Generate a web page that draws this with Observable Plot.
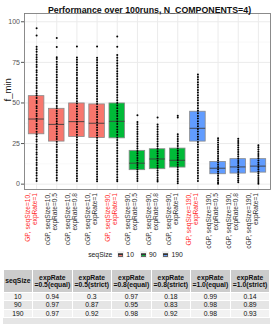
<!DOCTYPE html>
<html>
<head>
<meta charset="utf-8">
<script src="https://cdn.jsdelivr.net/npm/d3@7"></script>
<script src="https://cdn.jsdelivr.net/npm/@observablehq/plot@0.6"></script>
<style>
  body { margin: 0; background: white; font-family: "Liberation Sans", Arial, sans-serif; }
  #wrap { position: relative; width: 273px; height: 327px; }
  #chart { position: absolute; left: 0; top: 0; }
  #legend { position: absolute; left: 0; top: 249px; width: 273px; height: 11px; display: flex; justify-content: center; align-items: center; font-size: 6.8px; color: #222; }
  #legend .key { display: inline-block; width: 7px; height: 7px; position: relative; margin: 0 2px 0 4px; background: #f2f2f2; }
  #legend .key i { position: absolute; left: 1px; top: 1.5px; width: 5px; height: 4px; box-sizing: border-box; border: 0.6px solid #666; }
  #legend .key b { position: absolute; left: 1px; top: 3.2px; width: 5px; height: 0.7px; background: #333; }
  #tablebox { position: absolute; left: 2.5px; top: 269px; width: 267px; height: 55px; background: #e5e5e5; }
  table { border-collapse: collapse; font-size: 6.8px; color: #111; width: 267px; table-layout: fixed; }
  td, th { border: 1px solid white; text-align: center; padding: 0; line-height: 7.3px; }
  th { background: #cccccc; font-weight: bold; height: 22px; }
  tr.r0 td { background: #f2f2f2; }
  tr.r1 td { background: #e5e5e5; }
</style>
</head>
<body>
<div id="wrap">
  <div id="chart"></div>
  <div id="legend"></div>
  <div id="tablebox"></div>
</div>
<script>
// ---------- data ----------
const title = "Performance over 100runs, N_COMPONENTS=4)";
const categories = ["GP10_1","cGP10_0.5","cGP10_0.8","cGP10_1","GP90_1","cGP90_0.5","cGP90_0.8","cGP90_1","GP190_1","cGP190_0.5","cGP190_0.8","cGP190_1"];
const xLabels = [
  "GP, seqSize=10,\nexpRate=1","cGP, seqSize=10,\nexpRate=0.5","cGP, seqSize=10,\nexpRate=0.8","cGP, seqSize=10,\nexpRate=1",
  "GP, seqSize=90,\nexpRate=1","cGP, seqSize=90,\nexpRate=0.5","cGP, seqSize=90,\nexpRate=0.8","cGP, seqSize=90,\nexpRate=1",
  "GP, seqSize=190,\nexpRate=1","cGP, seqSize=190,\nexpRate=0.5","cGP, seqSize=190,\nexpRate=0.8","cGP, seqSize=190,\nexpRate=1"
];
const isGP = [true,false,false,false,true,false,false,false,true,false,false,false];
const seqSize = ["10","10","10","10","90","90","90","90","190","190","190","190"];
const seqLevels = ["10","90","190"];
const seqColors = ["#F8766D","#00BA38","#619CFF"];
const q1 =     [30.7, 26.2, 29.0, 28.4, 28.2,  8.6,  9.2, 10.2, 26.2,  6.1,  6.5,  7.1];
const median = [40.1, 36.8, 38.5, 37.5, 38.7, 12.9, 15.5, 14.7, 34.4,  9.8, 10.6, 11.1];
const q3 =     [54.2, 46.4, 49.7, 49.1, 49.7, 20.5, 21.5, 21.9, 44.6, 13.7, 15.4, 15.4];
const yTicks = [0, 25, 50, 75, 100];
const yMinor = [12.5, 37.5, 62.5, 87.5];

// f_min of the runs, per box (read from the dot columns)
const runs1 = [96,91.5,84.6,83.1,81.6,79.7,78.2,76.8,75.3,73.5,72.1,70.2,68.9,67.2,65.5,64.1,62.3,60.6,59.2,57.3,55.8,54.6,53.1,51.2,49.9,48.0,46.7,45.1,43.3,42.0,40.2,38.9,37.0,35.6,34.1,32.3,30.8,29.3,27.5,26.2,24.3,22.8,21.4,19.5,18.2,16.4,14.9,13.2,11.8,10.0,8.6,6.8,5.3,3.5,1.9];
const runs2 = [90,84.4,78.2,77.0,75.4,73.7,72.2,70.6,69.1,67.4,65.9,64.2,62.8,61.0,59.5,57.8,56.3,54.5,53.1,51.4,49.9,48.2,46.8,45.0,43.5,41.9,40.3,38.7,37.3,35.5,34.1,32.4,30.9,29.2,27.8,26.1,24.4,22.9,21.2,19.8,18.0,16.6,14.9,13.5,11.7,10.3,8.5,7.1,5.4,3.8,2.2];
const runs3 = [84.8,78.0,76.6,75.0,73.5,71.8,70.3,68.6,67.2,65.4,64.0,62.3,60.8,59.0,57.6,55.9,54.3,52.7,51.1,49.6,47.9,46.4,44.8,43.1,41.6,40.0,38.4,36.9,35.2,33.7,32.1,30.4,28.9,27.3,25.7,24.1,22.5,20.9,19.3,17.7,16.2,14.5,13.0,11.3,9.8,8.2,6.6,5.0,3.5,2.0];
const runs4 = [84.8,77.9,76.4,74.9,73.2,71.7,70.1,68.5,66.9,65.3,63.7,62.1,60.5,58.9,57.3,55.7,54.1,52.5,50.9,49.3,47.7,46.1,44.5,42.9,41.3,39.7,38.1,36.5,34.9,33.3,31.7,30.1,28.5,26.9,25.3,23.7,22.1,20.5,18.9,17.3,15.7,14.1,12.5,10.9,9.3,7.7,6.1,4.5,3.0,1.8];
const runs5 = [91,84.6,79.6,77.8,76.2,74.5,72.9,71.3,69.6,68.0,66.4,64.7,63.1,61.5,59.8,58.2,56.6,54.9,53.3,51.7,50.0,48.4,46.8,45.1,43.5,41.9,40.2,38.6,37.0,35.3,33.7,32.1,30.4,28.8,27.2,25.5,23.9,22.3,20.6,19.0,17.4,15.7,14.1,12.5,10.8,9.2,7.6,5.9,4.3,2.7,1.8];
const runs6 = [42.4,38.3,36.9,35.4,33.8,32.3,30.9,29.4,27.8,26.3,24.9,23.4,21.9,20.4,19.0,17.6,16.1,14.7,13.2,11.8,10.4,9.0,7.6,6.1,4.7,3.3,1.9];
const runs7 = [41.1,36.8,35.3,33.8,32.2,30.7,29.3,27.8,26.2,24.7,23.3,21.8,20.3,18.8,17.3,15.8,14.4,12.9,11.4,9.9,8.4,7.0,5.5,4.0,2.6,1.6];
const runs8 = [42.2,41.0,30.7,29.3,27.8,26.4,24.9,23.5,22.0,20.6,19.1,17.7,16.2,14.8,13.4,11.9,10.5,9.0,7.6,6.1,4.7,3.2,1.8,0.6];
const runs9 = [67.6,66.0,64.4,62.8,61.2,59.6,58.0,56.4,54.8,53.2,51.6,50.0,48.4,46.8,45.2,43.6,42.0,40.4,38.8,37.2,35.6,34.0,32.4,30.8,29.2,27.6,26.0,24.4,22.8,21.2,19.6,18.0,16.4,14.8,13.2,11.6,10.0,8.4,6.8,5.2,3.6,2.0];
const runs10 = [28.3,27.0,25.6,24.2,22.9,21.5,20.1,18.8,17.4,16.0,14.7,13.3,11.9,10.6,9.2,7.8,6.5,5.1,3.7,2.4,1.2,0.2];
const runs11 = [28.0,26.6,25.3,23.9,22.5,21.2,19.8,18.4,17.1,15.7,14.3,13.0,11.6,10.2,8.9,7.5,6.1,4.8,3.4,2.2,1.2];
const runs12 = [24.0,22.7,21.3,20.0,18.6,17.3,15.9,14.6,13.2,11.9,10.5,9.2,7.8,6.5,5.1,3.8,2.5,1.3,0.3];

// table
const tableHeader = ["seqSize","expRate\n=0.5(equal)","expRate\n=0.5(strict)","expRate\n=0.8(equal)","expRate\n=0.8(strict)","expRate\n=1.0(equal)","expRate\n=1.0(strict)"];
const tableSeq = ["10","90","190"];
const tableRow10 = ["0.94","0.3","0.97","0.18","0.99","0.14"];
const tableRow90 = ["0.97","0.87","0.95","0.83","0.98","0.89"];
const tableRow190 = ["0.97","0.92","0.98","0.92","0.98","0.93"];

// ---------- build ----------
const allRuns = [runs1,runs2,runs3,runs4,runs5,runs6,runs7,runs8,runs9,runs10,runs11,runs12];
const stats = categories.map((c, i) => {
  const vals = allRuns[i];
  const iqr = q3[i] - q1[i];
  const hi = d3.max(vals.filter(v => v <= q3[i] + 1.5 * iqr));
  const lo = d3.min(vals.filter(v => v >= q1[i] - 1.5 * iqr));
  return {cat: c, q1: q1[i], median: median[i], q3: q3[i], lo, hi, seq: seqSize[i]};
});
const points = categories.flatMap((c, i) => allRuns[i].map(v => ({cat: c, v})));
const labelOf = new Map(categories.map((c, i) => [c, xLabels[i]]));
const gpCats = categories.filter((c, i) => isGP[i]);
const cgpCats = categories.filter((c, i) => !isGP[i]);
const inset = 2.3;

const chart = Plot.plot({
  width: 273, height: 250,
  marginLeft: 24, marginRight: 3, marginTop: 13, marginBottom: 61,
  style: {fontFamily: "Liberation Sans, Arial, sans-serif", background: "white", overflow: "visible"},
  x: {domain: categories, paddingInner: 0, paddingOuter: 0.1, round: false, axis: null},
  y: {domain: [-3.3, 105.1], axis: null},
  color: {domain: seqLevels, range: seqColors},
  marks: [
    Plot.ruleY(yMinor, {stroke: "#f3f3f3", strokeWidth: 0.6}),
    Plot.ruleY(yTicks, {stroke: "#ebebeb", strokeWidth: 1}),
    Plot.ruleX(categories, {x: d => d, stroke: "#ebebeb", strokeWidth: 1}),
    Plot.ruleX(stats, {x: "cat", y1: "lo", y2: "hi", stroke: "#808080", strokeWidth: 0.6}),
    Plot.barY(stats, {x: "cat", y1: "q1", y2: "q3", fill: "seq", stroke: "#8a8a8a", strokeWidth: 0.8, insetLeft: inset, insetRight: inset}),
    Plot.tickY(stats, {x: "cat", y: "median", stroke: "#3d3d3d", strokeWidth: 0.9, insetLeft: inset, insetRight: inset}),
    Plot.dot(points, {x: "cat", y: "v", r: 1, fill: "black"}),
    Plot.frame({stroke: "#7f7f7f", strokeWidth: 0.9}),
    Plot.axisY({ticks: yTicks, tickSize: 3, tickPadding: 1.5, fontSize: 7, color: "#555", label: null}),
    Plot.text(["f_min"], {frameAnchor: "left", rotate: -90, dx: -17, fontSize: 9.5, fill: "#111"}),
    Plot.text([title], {frameAnchor: "top", dy: -7, dx: 2, fontSize: 8.8, fontWeight: "bold", fill: "#111"}),
    Plot.text(gpCats, {x: d => d, text: d => labelOf.get(d), frameAnchor: "bottom", rotate: -90, textAnchor: "end", dy: 3.5, fontSize: 6.6, lineHeight: 1.05, fill: "#ff2a2a"}),
    Plot.text(cgpCats, {x: d => d, text: d => labelOf.get(d), frameAnchor: "bottom", rotate: -90, textAnchor: "end", dy: 3.5, fontSize: 6.6, lineHeight: 1.05, fill: "#333"})
  ]
});
document.getElementById("chart").appendChild(chart);

// legend
const legend = document.getElementById("legend");
const lt = document.createElement("span");
lt.textContent = "seqSize";
lt.style.marginRight = "1px";
legend.appendChild(lt);
seqLevels.forEach((s, i) => {
  const k = document.createElement("span");
  k.className = "key";
  const box = document.createElement("i");
  box.style.background = seqColors[i];
  const med = document.createElement("b");
  k.appendChild(box); k.appendChild(med);
  legend.appendChild(k);
  const t = document.createElement("span");
  t.textContent = s;
  t.style.marginRight = "2px";
  legend.appendChild(t);
});

// table
const tb = document.createElement("table");
const colg = document.createElement("colgroup");
[29.6, 39.5, 39.5, 39.5, 39.5, 39.5, 39.9].forEach(w => { const c = document.createElement("col"); c.style.width = w + "px"; colg.appendChild(c); });
tb.appendChild(colg);
const hr = document.createElement("tr");
tableHeader.forEach(h => {
  const th = document.createElement("th");
  th.innerHTML = h.split("\n").join("<br>");
  hr.appendChild(th);
});
tb.appendChild(hr);
[tableRow10, tableRow90, tableRow190].forEach((row, r) => {
  const tr = document.createElement("tr");
  tr.className = "r" + (r % 2);
  [tableSeq[r], ...row].forEach(v => {
    const td = document.createElement("td");
    td.textContent = v;
    tr.appendChild(td);
  });
  tb.appendChild(tr);
});
document.getElementById("tablebox").appendChild(tb);
</script>
</body>
</html>
